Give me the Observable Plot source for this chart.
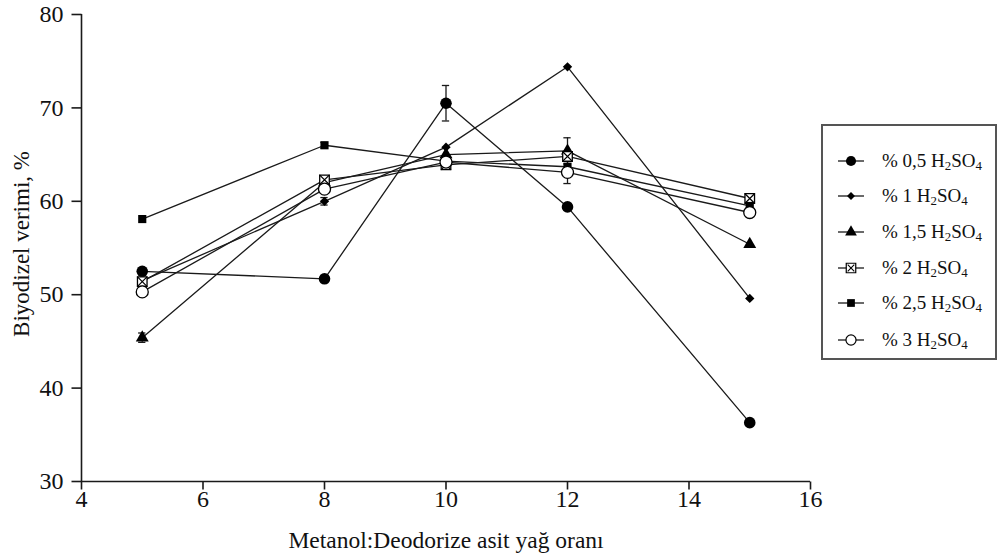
<!DOCTYPE html>
<html>
<head>
<meta charset="utf-8">
<script src="https://cdn.jsdelivr.net/npm/d3@7"></script>
<script src="https://cdn.jsdelivr.net/npm/@observablehq/plot@0.6"></script>
<style>
  html, body { margin: 0; padding: 0; background: #fff; }
  #wrap { position: relative; width: 1007px; height: 559px; font-family: "Liberation Serif", "Times New Roman", serif; color: #111; }
  #legend { position: absolute; left: 821px; top: 124px; width: 172px; height: 232px; border: 2px solid #555; box-sizing: content-box; }
  .item { position: absolute; left: 14px; height: 24px; display: flex; align-items: center; font-size: 19px; white-space: nowrap; }
  .item svg { margin-right: 17px; }
  .item sub { font-size: 0.68em; vertical-align: -0.25em; line-height: 0; }
</style>
</head>
<body>
<div id="wrap"><div id="legend"></div></div>
<script>
// ---- data ----
const ratio = [5, 8, 10, 12, 15];
const conc = ["0,5", "1", "1,5", "2", "2,5", "3"];
const y05 = [52.5, 51.7, 70.5, 59.4, 36.3];
const y1  = [51.5, 60.0, 65.8, 74.4, 49.6];
const y15 = [45.4, 62.0, 65.0, 65.4, 55.4];
const y2  = [51.4, 62.3, 63.9, 64.8, 60.3];
const y25 = [58.1, 66.0, 64.3, 63.7, 59.5];
const y3  = [50.3, 61.3, 64.2, 63.1, 58.8];
// error bars (series index, x, half-width)
const errSeries = [0, 2, 5, 2, 1, 4, 0, 0];
const errX      = [10, 12, 12, 5, 8, 8, 12, 5];
const errD      = [1.9, 1.4, 1.2, 0.5, 0.4, 0.3, 0.3, 0.3];
const xTicks = [4, 6, 8, 10, 12, 14, 16];
const yTicks = [30, 40, 50, 60, 70, 80];
const xLabel = "Metanol:Deodorize asit yağ oranı";
const yLabel = "Biyodizel verimi, %";

const allY = [y05, y1, y15, y2, y25, y3];
const rows = [];
allY.forEach((ys, s) => ys.forEach((v, i) => rows.push({s, x: ratio[i], y: v})));
const errRows = errSeries.map((s, i) => {
  const c = allY[s][ratio.indexOf(errX[i])];
  return {x: errX[i], lo: c - errD[i], hi: c + errD[i]};
});
const ser = s => rows.filter(d => d.s === s);
const ink = "#1a1a1a";
const xMin = xTicks[0], yMin = yTicks[0];
// tick-mark glyphs (drawn through Plot's dot mark at the axis positions)
const tickLeft = {draw(ctx) { ctx.moveTo(-10, 0); ctx.lineTo(0, 0); }};
const tickDown = {draw(ctx) { ctx.moveTo(0, 0); ctx.lineTo(0, 8); }};

const chart = Plot.plot({
  width: 1007, height: 559,
  marginLeft: 81, marginRight: 197, marginTop: 14, marginBottom: 78,
  x: {domain: [4, 16], axis: null},
  y: {domain: [30, 80], axis: null},
  style: {fontFamily: "Liberation Serif, Times New Roman, serif", fontSize: "23px", color: "#111", background: "white"},
  marks: [
    Plot.line(rows, {x: "x", y: "y", z: "s", stroke: ink, strokeWidth: 1.3}),
    Plot.ruleX(errRows, {x: "x", y1: "lo", y2: "hi", stroke: ink, strokeWidth: 1.3}),
    Plot.ruleY(errRows, {y: "lo", x1: d => d.x - 0.06, x2: d => d.x + 0.06, stroke: ink, strokeWidth: 1.3}),
    Plot.ruleY(errRows, {y: "hi", x1: d => d.x - 0.06, x2: d => d.x + 0.06, stroke: ink, strokeWidth: 1.3}),
    Plot.dot(ser(0), {x: "x", y: "y", symbol: "circle", r: 5.8, fill: "black"}),
    Plot.dot(ser(1), {x: "x", y: "y", symbol: "diamond2", r: 4.2, fill: "black"}),
    Plot.dot(ser(2), {x: "x", y: "y", symbol: "triangle", r: 4.8, fill: "black"}),
    Plot.dot(ser(3), {x: "x", y: "y", symbol: "square", r: 5.4, fill: "white", stroke: "black", strokeWidth: 1.3}),
    Plot.dot(ser(3), {x: "x", y: "y", symbol: "times", r: 4.6, stroke: "black", strokeWidth: 1.2}),
    Plot.dot(ser(4), {x: "x", y: "y", symbol: "square", r: 4.6, fill: "black"}),
    Plot.dot(ser(5), {x: "x", y: "y", symbol: "circle", r: 6, fill: "white", stroke: "black", strokeWidth: 1.3}),
    // axes
    Plot.ruleX([xMin], {stroke: ink, strokeWidth: 1.6}),
    Plot.ruleY([yMin], {stroke: ink, strokeWidth: 1.6}),
    Plot.dot(yTicks, {x: yTicks.map(() => xMin), y: d => d, symbol: tickLeft, fill: "none", stroke: ink, strokeWidth: 1.6}),
    Plot.dot(xTicks, {x: d => d, y: xTicks.map(() => yMin), symbol: tickDown, fill: "none", stroke: ink, strokeWidth: 1.6}),
    Plot.text(yTicks, {x: yTicks.map(() => xMin), y: d => d, text: d => String(d), textAnchor: "end", dx: -18, fontSize: 24, fill: "#111"}),
    Plot.text(xTicks, {x: d => d, y: xTicks.map(() => yMin), text: d => String(d), dy: 18, fontSize: 24, fill: "#111"}),
    Plot.text([xLabel], {frameAnchor: "bottom", dy: 66, text: d => d, fontSize: 23.5, fill: "#111"}),
    Plot.text([yLabel], {frameAnchor: "left", textAnchor: "middle", dx: -60, dy: -4, rotate: -90, text: d => d, fontSize: 23, fill: "#111"})
  ]
});
document.getElementById("wrap").prepend(chart);

// ---- legend ----
const legend = document.getElementById("legend");
const sym = [
  {type: d3.symbolCircle, size: 80, fill: "black"},
  {type: d3.symbolDiamond2, size: 40, fill: "black"},
  {type: d3.symbolTriangle, size: 60, fill: "black"},
  {type: d3.symbolSquare, size: 90, fill: "white", stroke: "black", cross: true},
  {type: d3.symbolSquare, size: 60, fill: "black"},
  {type: d3.symbolCircle, size: 80, fill: "white", stroke: "black"}
];
const rowY = [35, 70, 106, 142, 177, 214];
conc.forEach((c, i) => {
  const div = document.createElement("div");
  div.className = "item";
  div.style.top = (rowY[i] - 12) + "px";
  const s = sym[i];
  const path = d3.symbol(s.type, s.size)();
  let inner = `<line x1="1" x2="27" y1="12" y2="12" stroke="${ink}" stroke-width="1.3"/>` +
    `<path d="${path}" transform="translate(14,12)" fill="${s.fill}" stroke="${s.stroke || "none"}" stroke-width="1.2"/>`;
  if (s.cross) inner += `<path d="${d3.symbol(d3.symbolTimes, 30)()}" transform="translate(14,12)" fill="none" stroke="black" stroke-width="1.1"/>`;
  div.innerHTML = `<svg width="28" height="24">${inner}</svg><span>% ${c} H<sub>2</sub>SO<sub>4</sub></span>`;
  legend.appendChild(div);
});
</script>
</body>
</html>
